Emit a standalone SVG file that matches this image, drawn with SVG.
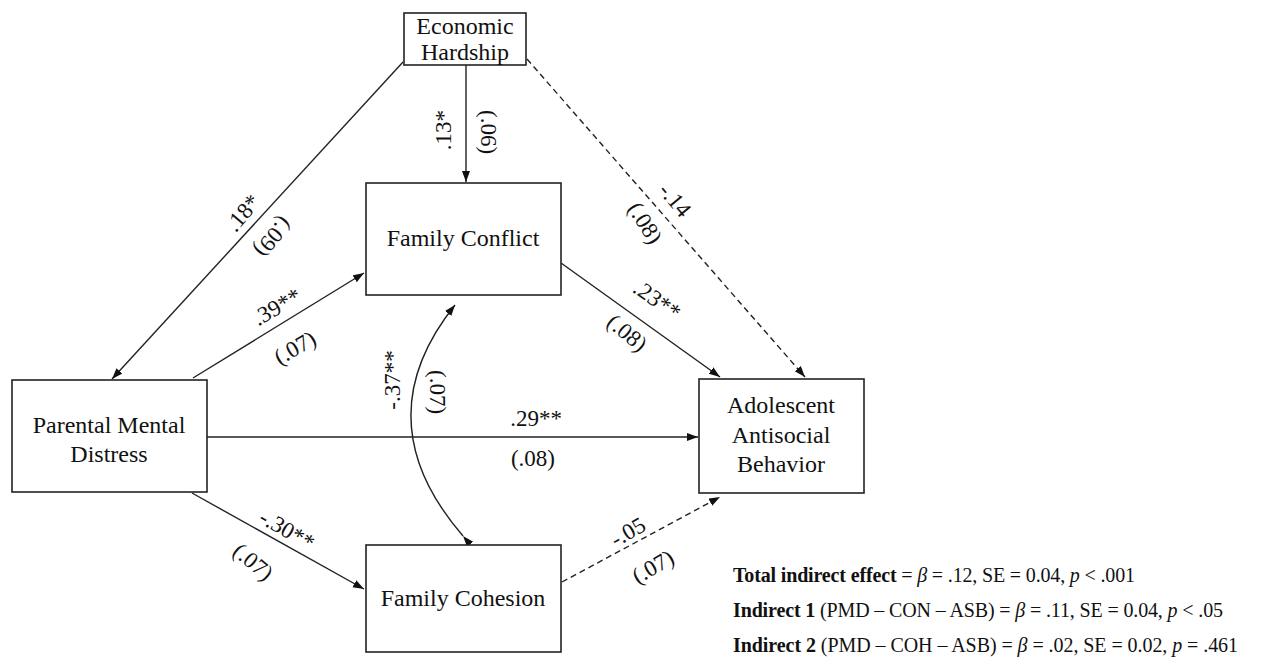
<svg xmlns="http://www.w3.org/2000/svg" width="1271" height="659" viewBox="0 0 1271 659">
<defs>
<marker id="ah" markerWidth="12" markerHeight="10" refX="11" refY="4" orient="auto" markerUnits="userSpaceOnUse">
<path d="M0,0 L11,4 L0,8 z" fill="#111"/>
</marker>
<style>
.box{fill:#fff;stroke:#222;stroke-width:1.6}
.nt{font-family:"Liberation Serif","Times New Roman",serif;font-size:24px;fill:#111;text-anchor:middle}
.ln{fill:none;stroke:#222;stroke-width:1.4}
.da{stroke-dasharray:6 4}
.lb{font-family:"Liberation Serif","Times New Roman",serif;font-size:23px;fill:#111;text-anchor:middle;dominant-baseline:central}
.ft{font-family:"Liberation Serif","Times New Roman",serif;font-size:20px;fill:#111}
</style>
</defs>
<rect width="1271" height="659" fill="#fff"/>
<g id="connectors">
<line class="ln" x1="466" y1="65" x2="466" y2="182" marker-end="url(#ah)"/>
<line class="ln" x1="403" y1="62" x2="112" y2="379" marker-end="url(#ah)"/>
<line class="ln da" x1="527" y1="59" x2="805" y2="377" marker-end="url(#ah)"/>
<line class="ln" x1="193" y1="378" x2="364" y2="273" marker-end="url(#ah)"/>
<line class="ln" x1="561" y1="263" x2="720" y2="377" marker-end="url(#ah)"/>
<line class="ln" x1="207" y1="437" x2="698" y2="437" marker-end="url(#ah)"/>
<line class="ln" x1="192" y1="493" x2="364" y2="589" marker-end="url(#ah)"/>
<line class="ln da" x1="562" y1="582" x2="720" y2="497" marker-end="url(#ah)"/>
<path class="ln" d="M463,536 Q363,420 455,305" marker-start="url(#ah)" marker-end="url(#ah)"/>
</g>
<g id="labels">
<text class="lb" transform="translate(443,130) rotate(-90)">.13*</text>
<text class="lb" transform="translate(488,132) rotate(90)">(.06)</text>
<text class="lb" transform="translate(243,213) rotate(-50)">.18*</text>
<text class="lb" transform="translate(273,237) rotate(130)">(.09)</text>
<text class="lb" transform="translate(675,200) rotate(50)">-.14</text>
<text class="lb" transform="translate(645,223) rotate(58)">(.08)</text>
<text class="lb" transform="translate(277,307) rotate(-30)">.39**</text>
<text class="lb" transform="translate(295,348) rotate(-30)">(.07)</text>
<text class="lb" transform="translate(657,300) rotate(35)">.23**</text>
<text class="lb" transform="translate(627,333) rotate(40)">(.08)</text>
<text class="lb" transform="translate(392,380) rotate(-90)">-.37**</text>
<text class="lb" transform="translate(437,392) rotate(90)">(.07)</text>
<text class="lb" x="536" y="418">.29**</text>
<text class="lb" x="533" y="458">(.08)</text>
<text class="lb" transform="translate(287,530) rotate(30)">-.30**</text>
<text class="lb" transform="translate(253,562) rotate(40)">(.07)</text>
<text class="lb" transform="translate(628,532) rotate(-30)">-.05</text>
<text class="lb" transform="translate(653,567) rotate(-30)">(.07)</text>
</g>
<g id="economic-hardship">
<rect class="box" x="404" y="13" width="122" height="52"/>
<text class="nt" x="465" y="34">Economic</text>
<text class="nt" x="465" y="60">Hardship</text>
</g>
<g id="parental-mental-distress">
<rect class="box" x="12" y="380" width="195" height="112"/>
<text class="nt" x="109" y="433">Parental Mental</text>
<text class="nt" x="109" y="462">Distress</text>
</g>
<g id="family-conflict">
<rect class="box" x="366" y="183" width="195" height="112"/>
<text class="nt" x="463" y="246">Family Conflict</text>
</g>
<g id="family-cohesion">
<rect class="box" x="366" y="545" width="195" height="107"/>
<text class="nt" x="463" y="606">Family Cohesion</text>
</g>
<g id="adolescent-antisocial-behavior">
<rect class="box" x="699" y="379" width="165" height="114"/>
<text class="nt" x="781" y="413">Adolescent</text>
<text class="nt" x="781" y="443">Antisocial</text>
<text class="nt" x="781" y="472">Behavior</text>
</g>
<g id="notes">
<text class="ft" x="733" y="582" textLength="402" lengthAdjust="spacing"><tspan font-weight="bold">Total indirect effect</tspan> = <tspan font-style="italic">β</tspan> = .12, SE = 0.04, <tspan font-style="italic">p</tspan> &lt; .001</text>
<text class="ft" x="733" y="617" textLength="490" lengthAdjust="spacing"><tspan font-weight="bold">Indirect 1</tspan> (PMD – CON – ASB) = <tspan font-style="italic">β</tspan> = .11, SE = 0.04, <tspan font-style="italic">p</tspan> &lt; .05</text>
<text class="ft" x="733" y="652" textLength="505" lengthAdjust="spacing"><tspan font-weight="bold">Indirect 2</tspan> (PMD – COH – ASB) = <tspan font-style="italic">β</tspan> = .02, SE = 0.02,  <tspan font-style="italic">p</tspan> = .461</text>
</g>
</svg>
